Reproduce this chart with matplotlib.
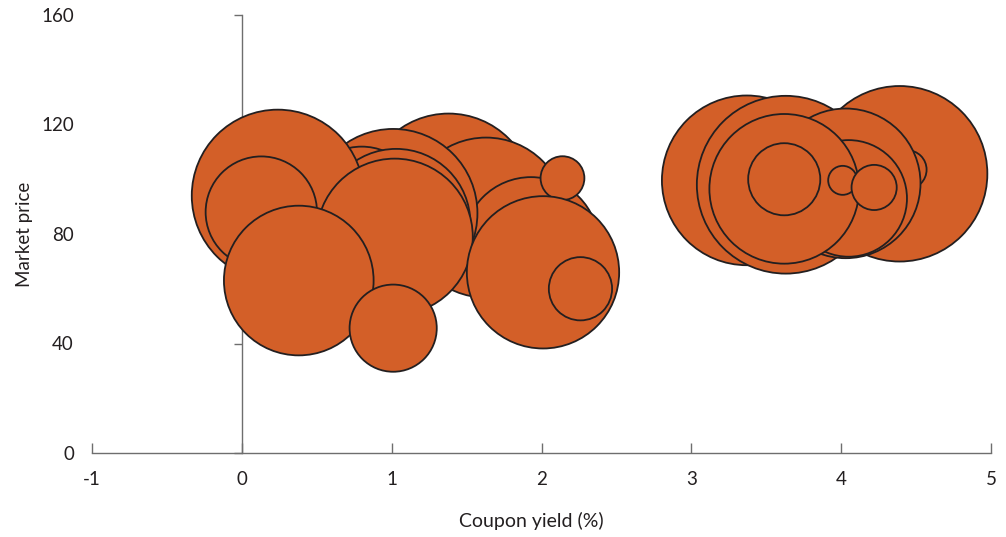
import numpy as np
import matplotlib
matplotlib.use("Agg")
import matplotlib.pyplot as plt

plt.rcParams["font.family"] = ["Lato", "DejaVu Sans"]

# ── Data (drawing order = back to front) ──────────────────────────────────────
coupon_yield = [1.38, 1.63, 1.93, 2.14, 1.01, 0.80, 1.03, 0.24, 0.13, 1.02,
                0.38, 1.01, 2.01, 2.26,
                4.39, 4.44, 3.37, 3.63, 4.03, 4.05, 3.62, 3.62, 4.01, 4.22]
market_price = [93, 86, 76, 100.4, 87.6, 90, 84, 94, 88, 79,
                63, 45.6, 66, 60,
                102, 103.5, 99.6, 98, 98.5, 93, 96.5, 100, 99.6, 97]
amount       = [72, 64, 46, 4.8, 71, 36, 55, 74, 31, 61,
                56, 19, 58, 10,
                77, 3.8, 72, 79, 56, 34, 56, 13, 2.1, 5.1]

x_ticks = [-1, 0, 1, 2, 3, 4, 5]
y_ticks = [0, 40, 80, 120, 160]

FILL = "#D35F28"
EDGE = "#231F20"
AXIS = "#6E6E6E"
TEXT = "#231F20"

fig = plt.figure(figsize=(10.06, 5.37), dpi=100)
ax = fig.add_axes([92 / 1006, 84 / 537, 899 / 1006, 438 / 537])

# amount is proportional to bubble area
sizes = np.array(amount) * 207.36
ax.scatter(coupon_yield, market_price, s=sizes, c=FILL, edgecolors=EDGE,
           linewidths=1.3, zorder=3, clip_on=False)

ax.set_xlim(-1, 5)
ax.set_ylim(0, 160)
ax.set_xticks(x_ticks)
ax.set_xticklabels([str(v) for v in x_ticks])
ax.set_yticks(y_ticks)
ax.set_yticklabels([str(v) for v in y_ticks])

for side in ("top", "right", "left"):
    ax.spines[side].set_visible(False)
ax.spines["bottom"].set_color(AXIS)
ax.spines["bottom"].set_linewidth(1)

ax.tick_params(axis="x", direction="in", length=7, width=1, color=AXIS,
               pad=13, labelsize=13.5, labelcolor=TEXT)
ax.tick_params(axis="y", length=0, pad=13, labelsize=13.5, labelcolor=TEXT)

# vertical axis line sits at x = 0 (1/6 of the way across), ticks only
sec = ax.secondary_yaxis(1 / 6)
sec.set_yticks(y_ticks)
sec.tick_params(axis="y", direction="out", length=6, width=1, color=AXIS,
                labelleft=False, labelright=False)
sec.spines["left"].set_color(AXIS)
sec.spines["left"].set_linewidth(1)
for side in ("right", "top", "bottom"):
    sec.spines[side].set_visible(False)

ax.set_xlabel("Coupon yield (%)", fontsize=14, color=TEXT)
ax.xaxis.set_label_coords(0.489, -0.135)
ax.set_ylabel("Market price", fontsize=13.5, color=TEXT)
ax.yaxis.set_label_coords(-0.066, 0.5)

fig.savefig("out.png", dpi=100)
